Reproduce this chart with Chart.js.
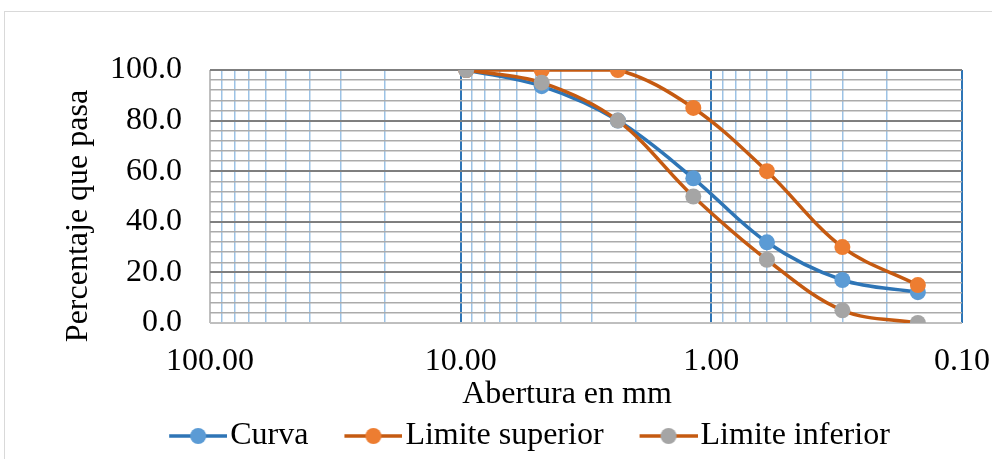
<!DOCTYPE html>
<html>
<head>
<meta charset="utf-8">
<script src="https://cdn.jsdelivr.net/npm/chart.js@4"></script>
<style>
  html, body { margin: 0; padding: 0; background: #fff; }
  #wrap { width: 992px; height: 459px; }
</style>
</head>
<body>
<div id="wrap"><canvas id="gradChart" width="992" height="459"></canvas></div>
<script>
/* ---- Data ---- */
const sieveSizes = [9.5, 4.75, 2.36, 1.18, 0.6, 0.3, 0.15];
const curva = [100, 93.6, 80, 57.2, 31.9, 17, 12.2];
const limiteSuperior = [100, 100, 100, 85, 60, 30, 15];
const limiteInferior = [100, 95, 80, 50, 25, 5, 0];
const seriesNames = ["Curva", "Limite superior", "Limite inferior"];

const xMajorTicks = [100, 10, 1, 0.1];
const yMajorStep = 20;
const yMinorStep = 4;

/* ---- Styling ---- */
const FONT = "'Liberation Serif', 'Times New Roman', serif";
const FONT_SIZE = 32;
const lineColors = ["#2E75B6", "#C55A11", "#C55A11"];
const markerColors = ["#5B9BD5", "#ED7D31", "#A5A5A5"];

// minor log grid positions (1..9 in each decade)
const xGridTicks = [];
for (let d = 0.1; d < 100; d *= 10) {
  for (let m = 1; m < 10; m++) xGridTicks.push(+(d * m).toPrecision(6));
}
xGridTicks.push(100);

function toPoints(values) {
  return sieveSizes.map((s, i) => ({ x: s, y: values[i] }));
}

/* ---- Legend swatches: line with marker, like the spreadsheet legend ---- */
const SWATCH_BOX = 66;
function makeSwatch(lineColor, markerColor) {
  const c = document.createElement("canvas");
  c.width = SWATCH_BOX + 26;
  c.height = 20;
  const g = c.getContext("2d");
  const x0 = c.width - 58, x1 = c.width;
  g.strokeStyle = lineColor;
  g.lineWidth = 3.5;
  g.beginPath();
  g.moveTo(x0, 10);
  g.lineTo(x1, 10);
  g.stroke();
  g.fillStyle = markerColor;
  g.beginPath();
  g.arc((x0 + x1) / 2, 10, 8, 0, Math.PI * 2);
  g.fill();
  return c;
}

/* ---- Frame + axis titles ---- */
function drawText(ctx, text, x, y, angle) {
  ctx.save();
  ctx.translate(x, y);
  ctx.rotate(angle);
  ctx.font = FONT_SIZE + "px " + FONT;
  ctx.fillStyle = "#000";
  ctx.textAlign = "center";
  ctx.textBaseline = "middle";
  ctx.fillText(text, 0, 0);
  ctx.restore();
}

const framePlugin = {
  id: "frame",
  beforeDraw(chart) {
    const ctx = chart.ctx;
    ctx.save();
    ctx.fillStyle = "#fff";
    ctx.fillRect(0, 0, chart.width, chart.height);
    ctx.strokeStyle = "#D9D9D9";
    ctx.lineWidth = 1;
    ctx.strokeRect(4.5, 11.5, chart.width + 20, chart.height + 20);
    ctx.restore();
  },
  afterDraw(chart) {
    drawText(chart.ctx, "Percentaje que pasa", 79, 216, -Math.PI / 2);
    drawText(chart.ctx, "Abertura en mm", 567, 395, 0);
  },
};

const datasets = [curva, limiteSuperior, limiteInferior].map((vals, i) => ({
  label: seriesNames[i],
  data: toPoints(vals),
  borderColor: lineColors[i],
  backgroundColor: markerColors[i],
  pointBackgroundColor: markerColors[i],
  pointBorderColor: markerColors[i],
  pointBorderWidth: 0,
  pointRadius: 8,
  borderWidth: 3.5,
  tension: 0.35,
  order: 2 - i,
}));

new Chart(document.getElementById("gradChart"), {
  type: "line",
  data: { datasets },
  plugins: [framePlugin],
  options: {
    responsive: false,
    animation: false,
    layout: { padding: { left: 76, right: 30, top: 70, bottom: -3 } },
    plugins: {
      tooltip: { enabled: false },
      legend: {
        position: "bottom",
        labels: {
          usePointStyle: true,
          pointStyleWidth: SWATCH_BOX,
          padding: 15,
          color: "#000",
          font: { family: FONT, size: FONT_SIZE },
          generateLabels: (chart) =>
            chart.data.datasets.map((ds, i) => ({
              text: ds.label,
              pointStyle: makeSwatch(lineColors[i], markerColors[i]),
              fillStyle: markerColors[i],
              strokeStyle: lineColors[i],
              lineWidth: 0,
              hidden: false,
              datasetIndex: i,
            })),
        },
      },
    },
    scales: {
      x: {
        type: "logarithmic",
        reverse: true,
        min: 0.1,
        max: 100,
        afterBuildTicks: (scale) => {
          scale.ticks = xGridTicks.map((v) => ({ value: v }));
        },
        afterFit: (scale) => { scale.height = 82; },
        ticks: {
          autoSkip: false,
          maxRotation: 0,
          padding: 19,
          color: "#000",
          font: { family: FONT, size: FONT_SIZE },
          callback: (v) => (xMajorTicks.includes(v) ? Number(v).toFixed(2) : ""),
        },
        grid: {
          drawTicks: false,
          color: (ctx) => {
            const v = ctx.tick && ctx.tick.value;
            if (v === 100) return "#BFBFBF";
            return xMajorTicks.includes(v) ? "#2E75B6" : "#9DC3E6";
          },
          lineWidth: (ctx) => (ctx.tick && xMajorTicks.includes(ctx.tick.value) ? 2 : 1.5),
        },
        border: { display: false },
      },
      y: {
        min: 0,
        max: 100,
        afterFit: (scale) => { scale.width = 134; },
        ticks: {
          stepSize: yMinorStep,
          autoSkip: false,
          padding: 28,
          color: "#000",
          font: { family: FONT, size: FONT_SIZE },
          callback: (v) => (v % yMajorStep === 0 ? Number(v).toFixed(1) : ""),
        },
        grid: {
          drawTicks: false,
          color: (ctx) => {
            const v = ctx.tick && ctx.tick.value;
            if (v === 0) return "#BFBFBF";
            return v % yMajorStep === 0 ? "#7F7F7F" : "#ABABAB";
          },
          lineWidth: (ctx) => (ctx.tick && ctx.tick.value % yMajorStep === 0 ? 2 : 1.5),
        },
        border: { display: false },
      },
    },
  },
});
</script>
</body>
</html>
